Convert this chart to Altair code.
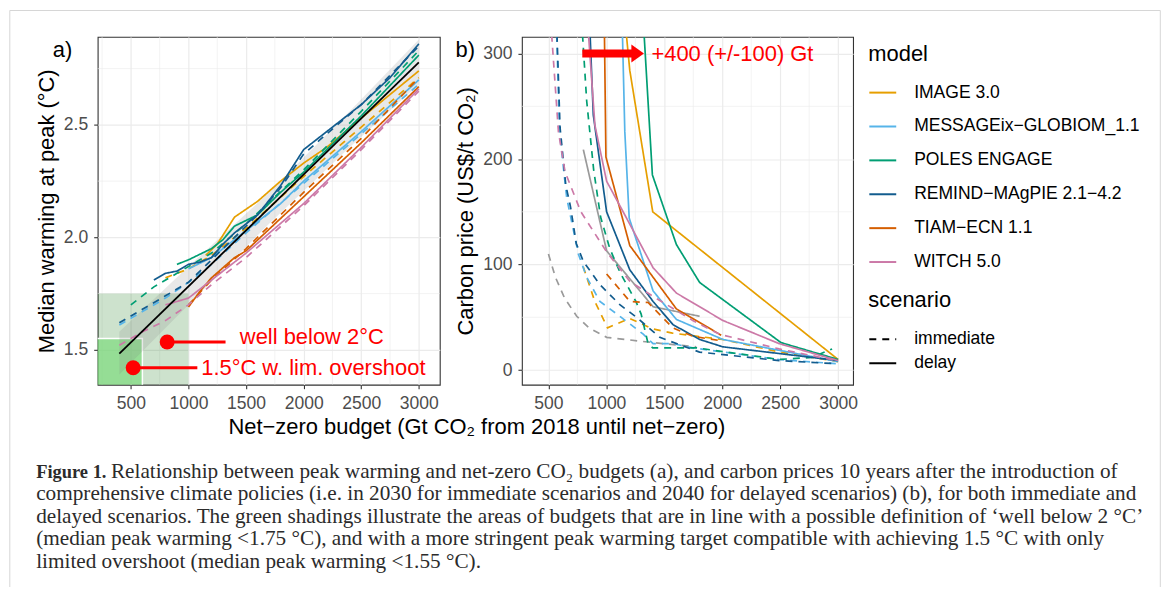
import altair as alt
import pandas as pd

# ---------------- categories / styling lists ----------------
MODELS = ["IMAGE 3.0", "MESSAGEix−GLOBIOM_1.1", "POLES ENGAGE",
          "REMIND−MAgPIE 2.1−4.2", "TIAM−ECN 1.1", "WITCH 5.0"]
COLORS = ["#E69F00", "#56B4E9", "#009E73", "#125C8E", "#D55E00", "#CC79A7"]
SCENARIOS = ["immediate", "delay"]

# ---------------- panel a: budget (Gt CO2) vs median peak warming ----------------
A_IMAGE_IMM = [(800, 1.82), (1000, 1.86), (1200, 1.92), (1500, 2.04), (2000, 2.27), (2500, 2.49), (3000, 2.71)]
A_IMAGE_DEL = [(1150, 1.92), (1250, 1.97), (1400, 2.09), (1600, 2.16), (1800, 2.25), (2000, 2.33), (2200, 2.40), (2500, 2.53), (3000, 2.74)]
A_MESSAGE_IMM = [(400, 1.61), (600, 1.67), (800, 1.73), (1000, 1.80), (1200, 1.88), (1500, 2.02), (2000, 2.24), (2500, 2.46), (3000, 2.68)]
A_MESSAGE_DEL = [(1000, 1.86), (1200, 1.91), (1500, 2.03), (1800, 2.15), (2000, 2.25), (2500, 2.47), (3000, 2.70)]
A_POLES_IMM = [(500, 1.70), (700, 1.78), (900, 1.84), (1200, 1.93), (1500, 2.06), (2000, 2.30), (2500, 2.56), (3000, 2.83)]
A_POLES_DEL = [(900, 1.88), (1000, 1.90), (1200, 1.95), (1300, 1.99), (1400, 2.05), (1600, 2.10), (1800, 2.20), (2000, 2.29), (2500, 2.54), (3000, 2.81)]
A_REMIND_IMM = [(400, 1.62), (600, 1.68), (800, 1.74), (1000, 1.80), (1200, 1.90), (1400, 2.00), (1600, 2.10), (1800, 2.22), (2000, 2.37), (2200, 2.46), (2500, 2.59), (3000, 2.85)]
A_REMIND_DEL = [(700, 1.81), (800, 1.84), (900, 1.85), (1000, 1.88), (1100, 1.89), (1200, 1.91), (1300, 1.97), (1400, 2.02), (1600, 2.10), (1800, 2.23), (2000, 2.39), (2200, 2.47), (2500, 2.59), (2750, 2.71), (3000, 2.86)]
A_TIAM_IMM = [(1000, 1.70), (1200, 1.81), (1500, 1.95), (2000, 2.20), (2500, 2.44), (3000, 2.71)]
A_TIAM_DEL = [(1000, 1.69), (1100, 1.76), (1200, 1.82), (1400, 1.91), (1500, 1.94), (2000, 2.18), (2500, 2.42), (3000, 2.67)]
A_WITCH_IMM = [(400, 1.52), (600, 1.58), (800, 1.63), (1000, 1.70), (1200, 1.79), (1500, 1.91), (2000, 2.14), (2500, 2.39), (3000, 2.65)]
A_WITCH_DEL = [(800, 1.70), (1000, 1.73), (1200, 1.81), (1500, 1.93), (2000, 2.15), (2500, 2.40), (3000, 2.66)]
A_FIT = [(400, 1.483), (3000, 2.778)]
A_BAND_X = [400, 1000, 1700, 2400, 3000]
A_BAND_LO = [1.39, 1.70, 2.06, 2.40, 2.68]
A_BAND_HI = [1.58, 1.87, 2.20, 2.56, 2.88]

# green target areas (budget lower/upper edge, warming lower/upper edge)
WB2_BOX = (212, 1000, 1.345, 1.75)
P15_BOX = (150, 600, 1.30, 1.55)

# annotations
ANN_PX = [815, 520]
ANN_PY = [1.535, 1.42]
ANN_END = [1322, 1077]
ANN_TX = [1446, 1111]
ANN_TY = [1.527, 1.39]
ANN_TEXT = ["well below 2°C", "1.5°C w. lim. overshoot"]

# ---------------- panel b: budget vs carbon price ----------------
B_IMAGE_IMM = [(800, 98), (900, 65), (1010, 40), (1200, 49), (1400, 39), (1570, 35), (2000, 29), (2500, 17), (3000, 8)]
B_IMAGE_DEL = [(1162, 330), (1202, 284), (1400, 150), (3000, 10)]
B_MESSAGE_IMM = [(568, 330), (595, 226), (658, 163), (758, 110), (830, 88), (944, 65), (1116, 51), (1318, 34), (1403, 25), (1575, 25), (1745, 21), (2491, 10), (2980, 6)]
B_MESSAGE_DEL = [(1136, 330), (1159, 226), (1197, 144), (1403, 75), (1604, 48), (2005, 29), (3000, 8)]
B_POLES_IMM = [(787, 330), (830, 255), (890, 190), (950, 145), (1030, 115), (1120, 92), (1255, 65), (1300, 53), (1360, 25), (1400, 21), (1780, 21), (2491, 10), (2776, 12), (2948, 20)]
B_POLES_DEL = [(1318, 332), (1397, 185), (1604, 119), (1805, 83), (2507, 26), (3000, 10)]
B_REMIND_IMM = [(570, 330), (600, 230), (650, 175), (690, 155), (740, 120), (801, 103), (944, 81), (1116, 62), (1260, 50), (1461, 31), (1804, 17), (2491, 9), (2980, 6)]
B_REMIND_DEL = [(855, 330), (887, 242), (1002, 150), (1202, 95), (1403, 65), (1575, 43), (1805, 29), (2005, 22), (3000, 9)]
B_TIAM_IMM = [(1002, 91), (1203, 65), (1360, 64), (1572, 40), (1745, 32), (1975, 28)]
B_TIAM_DEL = [(982, 330), (996, 202), (1202, 118), (1604, 58), (1991, 33)]
B_WITCH_IMM = [(520, 330), (586, 226), (643, 188), (780, 150), (1002, 112), (1203, 84), (1400, 70), (1745, 47), (1975, 34), (2491, 20), (2980, 9)]
B_WITCH_DEL = [(838, 330), (901, 232), (1002, 179), (1174, 144), (1403, 97), (1604, 73), (2005, 47), (2492, 25), (3000, 9)]
B_OTHER_IMM = [(500, 110), (560, 88), (640, 68), (744, 51), (850, 40), (1002, 31), (1403, 26), (1776, 22)]
B_OTHER_DEL = [(801, 209), (1002, 113), (1403, 60), (1805, 51)]

ARROW_FROM, ARROW_TO, ARROW_HEAD, ARROW_Y = 792, 1230, 1270, 300
ARROW_LABEL_X, ARROW_TEXT = 1389, "+400 (+/-100) Gt"

# axis ticks / minor grid
X_TICKS = [500, 1000, 1500, 2000, 2500, 3000]
A_Y_TICKS = [1.5, 2.0, 2.5]
B_Y_TICKS = [0, 100, 200, 300]
A_MINOR_X = [250, 750, 1250, 1750, 2250, 2750]
A_MINOR_Y = [1.75, 2.25, 2.75]
B_MINOR_X = [750, 1250, 1750, 2250, 2750]
B_MINOR_Y = [50, 150, 250]

X_TITLE = "Net−zero budget (Gt CO₂ from 2018 until net−zero)"
A_Y_TITLE = "Median warming at peak (°C)"
B_Y_TITLE = "Carbon price (US$/t CO₂)"

CAPTION_BOLD = "Figure 1."
CAPTION_LINES = [
    "Relationship between peak warming and net-zero CO₂ budgets (a), and carbon prices 10 years after the introduction of",
    "comprehensive climate policies (i.e. in 2030 for immediate scenarios and 2040 for delayed scenarios) (b), for both immediate and",
    "delayed scenarios. The green shadings illustrate the areas of budgets that are in line with a possible definition of ‘well below 2 °C’",
    "(median peak warming <1.75 °C), and with a more stringent peak warming target compatible with achieving 1.5 °C with only",
    "limited overshoot (median peak warming <1.55 °C).",
]

# ---------------- build tables ----------------
def rows(model, scen, pts):
    return [{"model": model, "scenario": scen, "x": x, "y": y} for x, y in pts]

a_series = [
    (MODELS[0], A_IMAGE_IMM, A_IMAGE_DEL), (MODELS[1], A_MESSAGE_IMM, A_MESSAGE_DEL),
    (MODELS[2], A_POLES_IMM, A_POLES_DEL), (MODELS[3], A_REMIND_IMM, A_REMIND_DEL),
    (MODELS[4], A_TIAM_IMM, A_TIAM_DEL), (MODELS[5], A_WITCH_IMM, A_WITCH_DEL),
]
b_series = [
    (MODELS[0], B_IMAGE_IMM, B_IMAGE_DEL), (MODELS[1], B_MESSAGE_IMM, B_MESSAGE_DEL),
    (MODELS[2], B_POLES_IMM, B_POLES_DEL), (MODELS[3], B_REMIND_IMM, B_REMIND_DEL),
    (MODELS[4], B_TIAM_IMM, B_TIAM_DEL), (MODELS[5], B_WITCH_IMM, B_WITCH_DEL),
]
a_rows, b_rows = [], []
for m, imm, dl in a_series:
    a_rows += rows(m, "immediate", imm) + rows(m, "delay", dl)
for m, imm, dl in b_series:
    b_rows += rows(m, "immediate", imm) + rows(m, "delay", dl)
df_a = pd.DataFrame(a_rows)
df_b = pd.DataFrame(b_rows)
df_other = pd.DataFrame(rows("other", "immediate", B_OTHER_IMM) + rows("other", "delay", B_OTHER_DEL))
df_fit = pd.DataFrame(rows("fit", "delay", A_FIT))
df_band = pd.DataFrame({"x": A_BAND_X, "lo": A_BAND_LO, "hi": A_BAND_HI})
df_wb2 = pd.DataFrame([{"x0": WB2_BOX[0], "x1": WB2_BOX[1], "y0": WB2_BOX[2], "y1": WB2_BOX[3]}])
df_p15 = pd.DataFrame([{"x0": P15_BOX[0], "x1": P15_BOX[1], "y0": P15_BOX[2], "y1": P15_BOX[3]}])
df_ann = pd.DataFrame({"px": ANN_PX, "py": ANN_PY, "end": ANN_END, "tx": ANN_TX, "ty": ANN_TY, "t": ANN_TEXT})
df_arrow = pd.DataFrame({"x0": [ARROW_FROM], "x1": [ARROW_TO], "h": [ARROW_HEAD], "y": [ARROW_Y],
                         "lx": [ARROW_LABEL_X], "t": [ARROW_TEXT]})

SANS = "Liberation Sans"
SERIF = "Liberation Serif"
W_A, W_B, H = 343.3, 332.3, 349
LEG_X = 773.3   # legend left, relative to panel a's plot area

xa = alt.Scale(domain=[212, 3182], nice=False, zero=False)
ya = alt.Scale(domain=[1.345, 2.891], nice=False, zero=False)
xb = alt.Scale(domain=[271, 3129], nice=False, zero=False)
yb = alt.Scale(domain=[-13.9, 315.8], nice=False, zero=False)

color = alt.Color("model:N", scale=alt.Scale(domain=MODELS, range=COLORS),
                  legend=alt.Legend(title="model", orient="none", legendX=LEG_X, legendY=7,
                                    symbolSize=729, rowPadding=10, labelOffset=17, labelLimit=0,
                                    titlePadding=12.4))
dash = alt.StrokeDash("scenario:N", scale=alt.Scale(domain=SCENARIOS, range=[[7, 6], [1, 0]]),
                      legend=alt.Legend(title="scenario", orient="none", legendX=LEG_X, legendY=254,
                                        symbolSize=729, rowPadding=-2, labelOffset=17,
                                        labelLimit=0, symbolStrokeColor="black", titlePadding=13))

GRID = "#ebebeb"
RED = "#ff0000"

# ---------------- panel a ----------------
ax_x = alt.Axis(values=X_TICKS, format="d", title=None, labelOverlap=False)
a_minx = alt.Chart(pd.DataFrame({"v": A_MINOR_X})).mark_rule(color=GRID, strokeWidth=0.6, clip=True).encode(
    x=alt.X("v:Q", scale=xa, axis=ax_x))
a_miny = alt.Chart(pd.DataFrame({"v": A_MINOR_Y})).mark_rule(color=GRID, strokeWidth=0.6).encode(
    y=alt.Y("v:Q", scale=ya, axis=alt.Axis(values=A_Y_TICKS, format=".1f", title=A_Y_TITLE, labelOverlap=False,
                                           titleX=-44, titleY=H / 2, titleBaseline="alphabetic", titleAngle=270)))
wb2 = alt.Chart(df_wb2).mark_rect(clip=True, fill="#1b7a1b", opacity=0.22).encode(
    x=alt.X("x0:Q", scale=xa), x2="x1:Q", y=alt.Y("y0:Q", scale=ya), y2="y1:Q")
p15 = alt.Chart(df_p15).mark_rect(clip=True, fill="#7ddc7d", fillOpacity=0.7,
                                  stroke="white", strokeWidth=1.5).encode(
    x=alt.X("x0:Q", scale=xa), x2="x1:Q", y=alt.Y("y0:Q", scale=ya), y2="y1:Q")
band = alt.Chart(df_band).mark_area(color="#808080", opacity=0.18).encode(
    x=alt.X("x:Q", scale=xa), y=alt.Y("lo:Q", scale=ya), y2="hi:Q")
a_lines = alt.Chart(df_a).mark_line(strokeWidth=1.7).encode(
    x=alt.X("x:Q", scale=xa), y=alt.Y("y:Q", scale=ya), color=color, strokeDash=dash)
fit = alt.Chart(df_fit).mark_line(color="black", strokeWidth=1.8).encode(
    x=alt.X("x:Q", scale=xa), y=alt.Y("y:Q", scale=ya))
ann_rule = alt.Chart(df_ann).mark_rule(color=RED, strokeWidth=3).encode(
    x=alt.X("px:Q", scale=xa), x2="end:Q", y=alt.Y("py:Q", scale=ya))
ann_pt = alt.Chart(df_ann).mark_point(filled=True, color=RED, size=225, opacity=1).encode(
    x=alt.X("px:Q", scale=xa), y=alt.Y("py:Q", scale=ya))
ann_txt = alt.Chart(df_ann).mark_text(color=RED, font=SANS, fontSize=22, align="left",
                                      baseline="alphabetic").encode(
    x=alt.X("tx:Q", scale=xa), y=alt.Y("ty:Q", scale=ya), text="t:N")


def label(text, x, y, **kw):
    return alt.Chart(pd.DataFrame({"t": [text]})).mark_text(align="left", baseline="alphabetic", **kw).encode(
        x=alt.value(x), y=alt.value(y), text="t:N")


lab_a = label("a)", -45, 20, font=SANS, fontSize=22, color="black")
xtitle = alt.Chart(pd.DataFrame({"t": [X_TITLE]})).mark_text(font=SANS, fontSize=22, align="center",
                                                            baseline="alphabetic", color="black").encode(
    x=alt.value(380.5), y=alt.value(398), text="t:N")

# caption (below the panels) and the surrounding figure frame
CAP_COLOR = "#2b2b2b"
CAP_SIZE = 21.3
cap_bold = label(CAPTION_BOLD, -61.7, 442.3, font=SERIF, fontSize=18.5, fontWeight="bold", color=CAP_COLOR)
cap_first = label(CAPTION_LINES[0], 13.3, 442.3, font=SERIF, fontSize=CAP_SIZE, color=CAP_COLOR)
cap_rest = alt.Chart(pd.DataFrame({"t": ["\n".join(CAPTION_LINES[1:])]})).mark_text(
    font=SERIF, fontSize=CAP_SIZE, color=CAP_COLOR, align="left", baseline="alphabetic",
    lineBreak="\n", lineHeight=22.6).encode(x=alt.value(-61.7), y=alt.value(465), text="t:N")
FRAME_L, FRAME_R, FRAME_T, FRAME_B = -88.2, 1066.3, -26.5, 552
frame_df = pd.DataFrame({"x0": [FRAME_L, FRAME_L, FRAME_R], "x1": [FRAME_L, FRAME_R, FRAME_R],
                         "y0": [FRAME_T, FRAME_T, FRAME_T], "y1": [FRAME_B, FRAME_T, FRAME_B]})
frame = alt.Chart(frame_df).mark_rule(color="#d6d6d6", strokeWidth=1).encode(
    x=alt.X("x0:Q", scale=None), x2="x1:Q", y=alt.Y("y0:Q", scale=None), y2="y1:Q")

panel_a = alt.layer(a_minx, a_miny, wb2, p15, band, a_lines, fit, ann_rule, ann_pt, ann_txt, lab_a, xtitle,
                    cap_bold, cap_first, cap_rest, frame).properties(width=W_A, height=H)

# ---------------- panel b ----------------
b_minx = alt.Chart(pd.DataFrame({"v": B_MINOR_X})).mark_rule(color=GRID, strokeWidth=0.6).encode(
    x=alt.X("v:Q", scale=xb, axis=ax_x))
b_miny = alt.Chart(pd.DataFrame({"v": B_MINOR_Y})).mark_rule(color=GRID, strokeWidth=0.6).encode(
    y=alt.Y("v:Q", scale=yb, axis=alt.Axis(values=B_Y_TICKS, format="d", title=B_Y_TITLE, labelOverlap=False,
                                           titleX=-50, titleY=H / 2, titleBaseline="alphabetic", titleAngle=270)))
b_other = alt.Chart(df_other).mark_line(strokeWidth=1.7, clip=True, color="#9a9a9a").encode(
    x=alt.X("x:Q", scale=xb), y=alt.Y("y:Q", scale=yb), strokeDash=dash)
b_lines = alt.Chart(df_b).mark_line(strokeWidth=1.7, clip=True).encode(
    x=alt.X("x:Q", scale=xb), y=alt.Y("y:Q", scale=yb), color=color, strokeDash=dash)
arrow_shaft = alt.Chart(df_arrow).mark_rule(color=RED, strokeWidth=8).encode(
    x=alt.X("x0:Q", scale=xb), x2="x1:Q", y=alt.Y("y:Q", scale=yb))
arrow_head = alt.Chart(df_arrow).mark_point(shape="M-0.7,-1L0.7,0L-0.7,1Z", filled=True, color=RED,
                                            size=324, opacity=1).encode(
    x=alt.X("h:Q", scale=xb), y=alt.Y("y:Q", scale=yb))
arrow_txt = alt.Chart(df_arrow).mark_text(color=RED, font=SANS, fontSize=22, align="left",
                                          baseline="middle").encode(
    x=alt.X("lx:Q", scale=xb), y=alt.Y("y:Q", scale=yb), text="t:N")
lab_b = label("b)", -66.7, 20, font=SANS, fontSize=22, color="black")

panel_b = alt.layer(b_minx, b_miny, b_other, b_lines, arrow_shaft, arrow_head, arrow_txt, lab_b
                    ).properties(width=W_B, height=H)

chart = alt.hconcat(panel_a, panel_b, spacing=81.7, bounds="flush").properties(padding=0, background="white")

chart = chart.configure_view(stroke="#333333", strokeWidth=1.1).configure_axis(
    domain=False, grid=True, gridColor=GRID, gridWidth=1.2, tickColor="#333333", tickSize=4, tickWidth=1.1,
    labelColor="#4d4d4d", labelFont=SANS, labelFontSize=17.6, labelPadding=6,
    titleFont=SANS, titleFontSize=22, titleFontWeight="normal", titleColor="black"
).configure_legend(
    titleFont=SANS, titleFontSize=22, titleFontWeight="normal", titleColor="black",
    labelFont=SANS, labelFontSize=17.6, labelColor="black", symbolType="stroke", symbolStrokeWidth=2,
    padding=0
)

chart.save("out.html", embed_options={"renderer": "svg", "actions": False})
